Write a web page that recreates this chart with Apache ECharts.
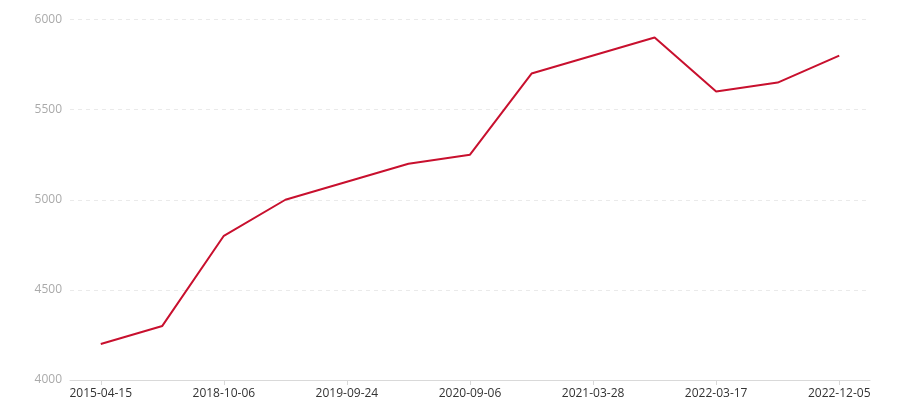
<!DOCTYPE html>
<html>
<head>
<meta charset="utf-8">
<script src="https://cdn.jsdelivr.net/npm/echarts@6/dist/echarts.min.js"></script>
<style>html,body{margin:0;padding:0;background:#fff}#c{width:900px;height:400px}</style>
</head>
<body>
<div id="c"></div>
<script>
const categories = ['2015-04-15','2017-06-20','2018-10-06','2019-03-12','2019-09-24','2020-02-18','2020-09-06','2020-12-15','2021-03-28','2021-09-10','2022-03-17','2022-07-22','2022-12-05'];
const values = [4200, 4300, 4800, 5000, 5100, 5200, 5250, 5700, 5800, 5900, 5600, 5650, 5800];
const yTicks = {min: 4000, max: 6000, interval: 500};

const chart = echarts.init(document.getElementById('c'));
chart.setOption({
  animation: false,
  grid: {left: 70, right: 30, top: 19.5, bottom: 19.5, containLabel: false},
  xAxis: {
    type: 'category',
    data: categories,
    boundaryGap: true,
    axisLine: {lineStyle: {color: '#d9d9d9', width: 1}},
    axisTick: {show: true, alignWithLabel: true, interval: 1, lineStyle: {color: '#d9d9d9'}},
    axisLabel: {interval: 1, color: '#333', fontSize: 12, fontFamily: 'Open Sans, sans-serif', margin: 8}
  },
  yAxis: {
    type: 'value',
    min: yTicks.min, max: yTicks.max, interval: yTicks.interval,
    axisLine: {show: false},
    axisTick: {show: false},
    axisLabel: {color: '#aaa', fontSize: 12, fontFamily: 'Open Sans, sans-serif', margin: 8, formatter: v => String(v)},
    splitLine: {lineStyle: {color: '#eaeaea', type: [4, 4]}}
  },
  series: [{
    type: 'line',
    data: values,
    showSymbol: false,
    symbol: 'none',
    lineStyle: {color: '#c8102e', width: 2},
    itemStyle: {color: '#c8102e'}
  }]
});
</script>
</body>
</html>
